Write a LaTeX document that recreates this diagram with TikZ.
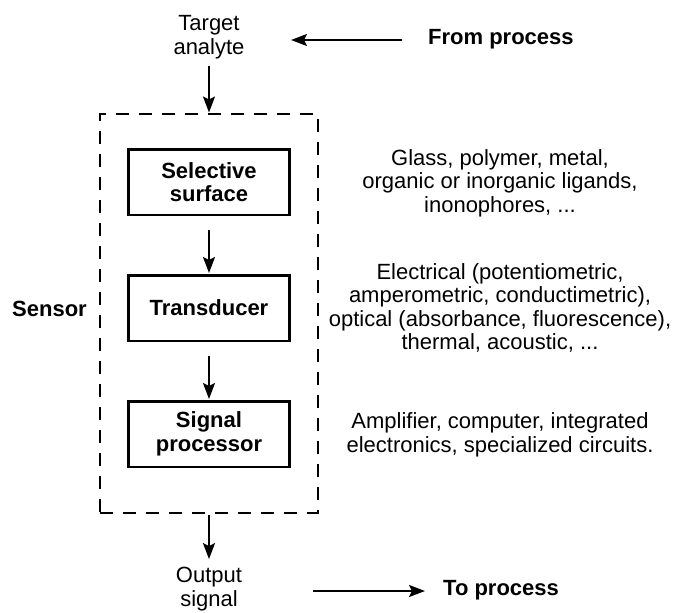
\documentclass[tikz,border=0pt]{standalone}
\usepackage{fontspec}
\setmainfont{Liberation Sans}
\usetikzlibrary{arrows.meta,positioning}

\begin{document}
\begin{tikzpicture}[x=1pt,y=-1pt,
			every node/.style = {align=center, inner sep=0pt,
				font=\fontsize{22}{23.5}\selectfont},
			boldlbl/.style = {font=\fontsize{22}{23.5}\selectfont\bfseries},
			stagebox/.style = {draw, line width=2.5pt, minimum width=161pt,
				minimum height=65.5pt, boldlbl},
			arr/.style = {line width=2pt, -{Stealth[length=16pt,width=12pt,inset=3pt]}}]
			\useasboundingbox (0,0) rectangle (675,613);
			% dashed sensor frame
			\node[draw, line width=2.4pt, dash pattern=on 13pt off 10pt,
				minimum width=217.6pt, minimum height=398.6pt] (sensor) at (209,313.5) {};
			\node[boldlbl] (sensorlbl) at (49.5,309) {Sensor};
			% the three stages
			\node[stagebox] (selective) at (209,182) {Selective\\surface};
			\node[stagebox] (transducer) at (209,308) {Transducer};
			\node[stagebox] (processor) at (209,434) {Signal\\processor};
			\draw[arr, shorten <=14pt, shorten >=1pt] (selective) -- (transducer);
			\draw[arr, shorten <=14pt, shorten >=1pt] (transducer) -- (processor);
			% in and out
			\node (target) at (209,37) {Target\\analyte};
			\node (output) at (209,589) {Output\\signal};
			\draw[arr, shorten <=7pt, shorten >=0.5pt] (target) -- (sensor.north -| target);
			\draw[arr, shorten <=1pt, shorten >=8pt] (sensor.south -| output) -- (output);
			\node[boldlbl, anchor=west] (from) at (428,39) {From process};
			\node[boldlbl, anchor=west] (to) at (443,590) {To process};
			\draw[arr] ([xshift=-26pt,yshift=-1pt]from.west) -- ([xshift=-137pt,yshift=-1pt]from.west);
			\draw[arr] ([xshift=-130pt,yshift=-1pt]to.west) -- ([xshift=-18pt,yshift=-1pt]to.west);
			% examples for each stage
			\node (glass) at (500,183) {Glass, polymer, metal,\\organic or inorganic ligands,\\inonophores, ...};
			\node (electrical) at (500,308) {Electrical (potentiometric,\\amperometric, conductimetric),\\optical (absorbance, fluorescence),\\thermal, acoustic, ...};
			\node (amplifier) at (500,435) {Amplifier, computer, integrated\\electronics, specialized circuits.};
\end{tikzpicture}
\end{document}
